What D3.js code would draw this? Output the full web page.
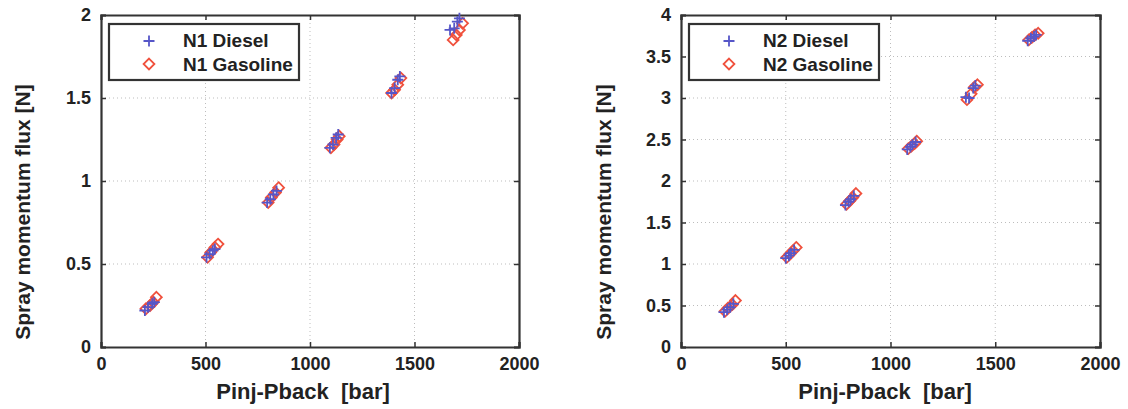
<!DOCTYPE html>
<html>
<head>
<meta charset="utf-8">
<script src="https://cdn.jsdelivr.net/npm/d3@7"></script>
<style>
  body { margin: 0; background: #fff; }
  svg { display: block; }
</style>
</head>
<body>
<div id="vis"></div>
<script>
// readings, pressure in bar, flux in N
var n1DieselP   = [210, 225, 245, 255, 505, 520, 535, 545, 795, 810, 825, 840, 1095, 1110, 1125, 1135, 1390, 1405, 1420, 1430, 1670, 1690, 1705, 1715];
var n1DieselF   = [0.22, 0.24, 0.26, 0.27, 0.54, 0.56, 0.58, 0.59, 0.87, 0.89, 0.92, 0.94, 1.20, 1.22, 1.26, 1.28, 1.53, 1.56, 1.61, 1.63, 1.91, 1.92, 1.96, 1.98];
var n1GasolineP = [215, 235, 250, 265, 510, 525, 545, 560, 800, 815, 835, 850, 1100, 1115, 1130, 1140, 1390, 1405, 1420, 1435, 1685, 1700, 1715, 1730];
var n1GasolineF = [0.23, 0.25, 0.27, 0.30, 0.54, 0.57, 0.60, 0.62, 0.87, 0.90, 0.93, 0.96, 1.20, 1.22, 1.25, 1.27, 1.53, 1.55, 1.58, 1.62, 1.85, 1.88, 1.91, 1.95];

var n2DieselP   = [205, 220, 235, 250, 500, 515, 525, 540, 785, 800, 810, 825, 1080, 1095, 1105, 1120, 1360, 1375, 1395, 1405, 1655, 1670, 1685, 1695];
var n2DieselF   = [0.42, 0.45, 0.48, 0.52, 1.07, 1.10, 1.13, 1.17, 1.71, 1.75, 1.78, 1.82, 2.38, 2.41, 2.44, 2.47, 3.01, 3.00, 3.12, 3.15, 3.69, 3.72, 3.74, 3.76];
var n2GasolineP = [210, 225, 245, 260, 505, 520, 535, 550, 790, 805, 820, 835, 1085, 1100, 1115, 1125, 1365, 1385, 1400, 1415, 1660, 1675, 1690, 1705];
var n2GasolineF = [0.43, 0.47, 0.51, 0.56, 1.08, 1.12, 1.16, 1.20, 1.72, 1.76, 1.80, 1.85, 2.39, 2.42, 2.45, 2.48, 2.98, 3.05, 3.13, 3.16, 3.70, 3.73, 3.76, 3.78];

var xTicks  = [0, 500, 1000, 1500, 2000];
var y1Ticks = [0, 0.5, 1, 1.5, 2];
var y2Ticks = [0, 0.5, 1, 1.5, 2, 2.5, 3, 3.5, 4];

var font = '"Liberation Sans", Arial, Helvetica, sans-serif';
var axisColor = "#333";
var dieselColor = "#5656c8";
var gasolineColor = "#f0503c";

var svg = d3.select("#vis").append("svg")
    .attr("width", 1128)
    .attr("height", 409);

var plusPath = "M-5.5,0H5.5M0,-5.5V5.5";

function drawPanel(opts) {
    var x = d3.scaleLinear().domain([0, 2000]).range([opts.left, opts.right]);
    var y = d3.scaleLinear().domain([0, opts.yMax]).range([opts.bottom, opts.top]);
    var g = svg.append("g");

    // dotted grid
    g.selectAll(".gx").data(xTicks.slice(1, -1)).enter().append("line")
        .attr("x1", d => x(d)).attr("x2", d => x(d))
        .attr("y1", opts.top).attr("y2", opts.bottom)
        .attr("stroke", "#bdbdbd").attr("stroke-width", 1).attr("stroke-dasharray", "1,3");
    g.selectAll(".gy").data(opts.yTicks.slice(1, -1)).enter().append("line")
        .attr("x1", opts.left).attr("x2", opts.right)
        .attr("y1", d => y(d)).attr("y2", d => y(d))
        .attr("stroke", "#bdbdbd").attr("stroke-width", 1).attr("stroke-dasharray", "1,3");

    // axes, ticks pointing inward (matlab style)
    var bottomAxis = d3.axisBottom(x).tickValues(xTicks).tickSize(-5).tickPadding(10).tickFormat(d3.format("d"));
    var topAxis = d3.axisTop(x).tickValues(xTicks).tickSize(-5).tickFormat("");
    var leftAxis = d3.axisLeft(y).tickValues(opts.yTicks).tickSize(-5).tickPadding(10).tickFormat(d => d);
    var rightAxis = d3.axisRight(y).tickValues(opts.yTicks).tickSize(-5).tickFormat("");

    [[bottomAxis, "translate(0," + opts.bottom + ")"],
     [topAxis, "translate(0," + opts.top + ")"],
     [leftAxis, "translate(" + opts.left + ",0)"],
     [rightAxis, "translate(" + opts.right + ",0)"]].forEach(function (a) {
        var ax = g.append("g").attr("transform", a[1]).call(a[0]);
        ax.select(".domain").attr("stroke", axisColor).attr("stroke-width", 2.2);
        ax.selectAll(".tick line").attr("stroke", axisColor).attr("stroke-width", 1.5);
        ax.selectAll("text")
            .style("font-family", font).style("font-size", "18px")
            .style("font-weight", "bold").attr("fill", "#222");
    });

    // markers
    var diamond = d3.symbol().type(d3.symbolDiamond2).size(75);
    var gas = opts.gasP.map((p, i) => [p, opts.gasF[i]]);
    var dsl = opts.dieselP.map((p, i) => [p, opts.dieselF[i]]);

    g.selectAll(".gas").data(gas).enter().append("path")
        .attr("d", diamond)
        .attr("transform", d => "translate(" + x(d[0]) + "," + y(d[1]) + ")")
        .attr("fill", "none").attr("stroke", gasolineColor).attr("stroke-width", 1.8);
    g.selectAll(".dsl").data(dsl).enter().append("path")
        .attr("d", plusPath)
        .attr("transform", d => "translate(" + x(d[0]) + "," + y(d[1]) + ")")
        .attr("fill", "none").attr("stroke", dieselColor).attr("stroke-width", 1.8);

    // legend
    var lx = opts.left + 8, ly = opts.top + 9;
    g.append("rect")
        .attr("x", lx).attr("y", ly).attr("width", 190).attr("height", 56)
        .attr("fill", "#fff").attr("stroke", axisColor).attr("stroke-width", 2.2);
    g.append("path").attr("d", plusPath)
        .attr("transform", "translate(" + (lx + 40) + "," + (ly + 17) + ")")
        .attr("stroke", dieselColor).attr("stroke-width", 1.8);
    g.append("path").attr("d", diamond)
        .attr("transform", "translate(" + (lx + 40) + "," + (ly + 40) + ")")
        .attr("fill", "none").attr("stroke", gasolineColor).attr("stroke-width", 1.8);
    [[opts.label + " Diesel", 23], [opts.label + " Gasoline", 47]].forEach(function (t) {
        g.append("text")
            .attr("x", lx + 74).attr("y", ly + t[1])
            .style("font-family", font).style("font-size", "19px").style("font-weight", "bold")
            .attr("fill", "#222").text(t[0]);
    });

    // axis labels
    g.append("text")
        .attr("x", opts.xLabelX).attr("y", 399)
        .attr("text-anchor", "middle")
        .style("font-family", font).style("font-size", "22px").style("font-weight", "bold")
        .attr("fill", "#222").attr("xml:space", "preserve")
        .text("Pinj-Pback  [bar]");
    g.append("text")
        .attr("transform", "translate(" + opts.yLabelX + ",212) rotate(-90)")
        .attr("text-anchor", "middle")
        .style("font-family", font).style("font-size", "21px").style("font-weight", "bold")
        .attr("fill", "#222")
        .text("Spray momentum flux [N]");
}

drawPanel({
    left: 101, right: 519, top: 15, bottom: 347, yMax: 2, yTicks: y1Ticks,
    dieselP: n1DieselP, dieselF: n1DieselF, gasP: n1GasolineP, gasF: n1GasolineF,
    label: "N1", yLabelX: 30, xLabelX: 303
});
drawPanel({
    left: 681, right: 1100, top: 15, bottom: 347, yMax: 4, yTicks: y2Ticks,
    dieselP: n2DieselP, dieselF: n2DieselF, gasP: n2GasolineP, gasF: n2GasolineF,
    label: "N2", yLabelX: 611, xLabelX: 885
});
</script>
</body>
</html>
